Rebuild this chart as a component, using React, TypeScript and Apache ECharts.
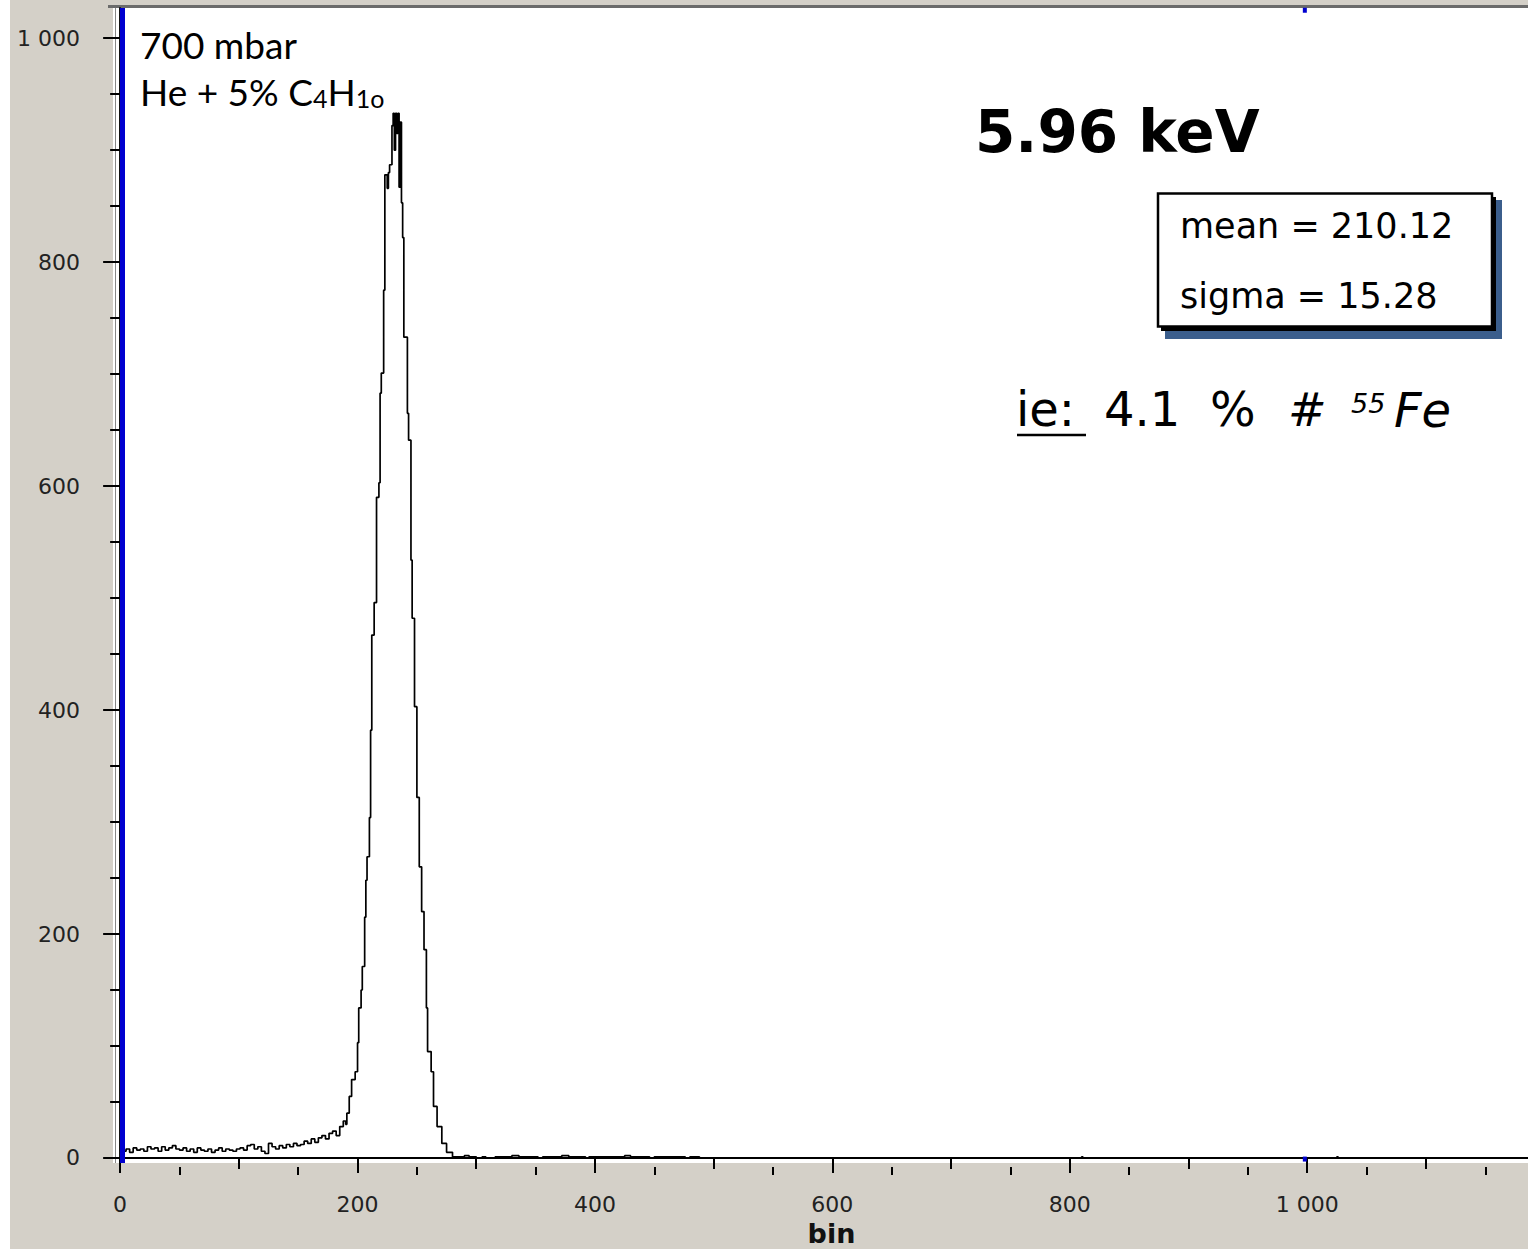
import React, { useEffect, useRef } from "react";
import * as echarts from "echarts";

// Histogram: left bin edge of each step and its count
const bins = [
  0, 3, 5, 8, 11, 14, 17, 20, 23, 26, 29, 32, 35, 38, 41, 44, 47, 50, 53, 56, 59,
  62, 65, 68, 71, 74, 77, 80, 83, 86, 89, 92, 95, 98, 101, 104, 107, 110, 113, 116,
  119, 122, 125, 128, 131, 134, 137, 140, 143, 146, 149, 152, 155, 158, 161, 164,
  167, 170, 173, 176, 179, 182, 185, 188, 190, 191, 193, 195, 198, 200, 201, 203,
  204, 206, 207, 208, 210, 211, 212, 214, 216, 218, 219, 220, 222, 223, 225, 226,
  227, 229, 230, 231, 232, 233, 234, 235, 236, 237, 238, 239, 242, 243, 245, 246,
  248, 250, 252, 254, 256, 258, 259, 262, 264, 267, 271, 275, 280, 284, 290, 294,
  300, 305, 308, 316, 330, 336, 352, 356, 372, 378, 392, 395, 410, 425, 430, 446,
  450, 470, 476, 480, 488, 810, 811, 1025, 1026, 1200,
];
const counts = [
  0, 6, 8, 5, 9, 7, 8, 6, 10, 8, 9, 6, 10, 7, 9, 11, 8, 7, 9, 6, 8,
  5, 9, 7, 6, 8, 5, 7, 9, 6, 8, 7, 6, 8, 9, 7, 11, 12, 8, 10,
  6, 4, 13, 10, 8, 11, 9, 12, 10, 13, 11, 12, 15, 13, 17, 14,
  18, 20, 17, 22, 24, 20, 28, 33, 30, 40, 55, 70, 77, 103, 134, 150,
  171, 215, 248, 269, 304, 382, 467, 496, 590, 603, 683, 701, 775, 878, 866, 880,
  887, 922, 933, 900, 933, 915, 933, 867, 925, 853, 822, 733, 665, 641, 534, 482,
  403, 322, 260, 220, 186, 134, 95, 77, 46, 28, 13, 5, 1, 1, 2, 1,
  0, 1, 0, 1, 2, 1, 0, 1, 2, 1, 0, 1, 1, 2, 1, 0,
  1, 1, 0, 1, 0, 1, 0, 1, 0, 0,
];

const xMajorTicks = [0, 200, 400, 600, 800, 1000];
const xMidTicks = [100, 300, 500, 700, 900, 1100];
const xMinorTicks = [50, 150, 250, 350, 450, 550, 650, 750, 850, 950, 1050, 1150];
const yMajorTicks = [0, 200, 400, 600, 800, 1000];
const yMinorTicks = [50, 100, 150, 250, 300, 350, 450, 500, 550, 650, 700, 750, 850, 900, 950];

const cursorBin = 2;
const endMarkerBin = 998;

const xName = "bin";
const pressureText = "700 mbar";
const energyText = "5.96 keV";
const meanText = "mean = 210.12";
const sigmaText = "sigma = 15.28";

const fmt = (v: number) => String(v).replace(/\B(?=(\d{3})+(?!\d))/g, " ");

const X_MIN = -6;
const X_MAX = 1186;
const Y_MIN = -4.5;
const Y_MAX = 1027;

export default function App() {
  const ref = useRef<HTMLDivElement>(null);

  useEffect(() => {
    if (!ref.current) return;
    const chart = echarts.init(ref.current, undefined, { renderer: "svg" });
    const font = "DejaVu Sans";
    const baseX = {
      type: "value" as const,
      min: X_MIN,
      max: X_MAX,
      position: "bottom" as const,
      offset: 4,
      splitLine: { show: false },
    };
    const baseY = {
      type: "value" as const,
      min: Y_MIN,
      max: Y_MAX,
      position: "left" as const,
      offset: 3,
      splitLine: { show: false },
    };
    const txt = (x: number, y: number, text: string, f: string) => ({
      type: "text",
      x,
      y,
      silent: true,
      style: { text, font: f, fill: "#000" },
    });
    const option: any = {
      animation: false,
      backgroundColor: "#d4d0c8",
      grid: {
        left: 113,
        top: 8,
        width: 1415,
        height: 1155,
        show: true,
        backgroundColor: "#ffffff",
        borderWidth: 0,
        containLabel: false,
        outerBoundsMode: "none",
      },
      xAxis: [
        {
          ...baseX,
          axisLine: { show: true, lineStyle: { color: "#000", width: 2 } },
          axisTick: {
            show: true,
            customValues: xMajorTicks,
            length: 15,
            lineStyle: { color: "#000", width: 2 },
          },
          axisLabel: {
            show: true,
            customValues: xMajorTicks,
            formatter: fmt,
            margin: 26,
            fontSize: 22,
            fontFamily: font,
            color: "#222",
          },
          name: xName,
          nameLocation: "middle",
          nameGap: 49,
          nameTextStyle: {
            fontSize: 27,
            fontWeight: "bold",
            fontFamily: font,
            color: "#111",
            padding: [0, 0, 0, 22],
          },
        },
        {
          ...baseX,
          axisLine: { show: false },
          axisTick: {
            show: true,
            customValues: xMidTicks,
            length: 11,
            lineStyle: { color: "#000", width: 2 },
          },
          axisLabel: { show: false },
        },
        {
          ...baseX,
          axisLine: { show: false },
          axisTick: {
            show: true,
            customValues: xMinorTicks,
            length: 8,
            lineStyle: { color: "#000", width: 2 },
          },
          axisLabel: { show: false },
        },
      ],
      yAxis: [
        {
          ...baseY,
          axisLine: { show: true, lineStyle: { color: "#111", width: 2 } },
          axisTick: {
            show: true,
            customValues: yMajorTicks,
            length: 17,
            lineStyle: { color: "#000", width: 2 },
          },
          axisLabel: {
            show: true,
            customValues: yMajorTicks,
            formatter: fmt,
            margin: 30,
            fontSize: 22,
            fontFamily: font,
            color: "#222",
          },
        },
        {
          ...baseY,
          axisLine: { show: false },
          axisTick: {
            show: true,
            customValues: yMinorTicks,
            length: 10,
            lineStyle: { color: "#000", width: 2 },
          },
          axisLabel: { show: false },
        },
      ],
      series: [
        {
          type: "line",
          step: "end",
          xAxisIndex: 0,
          yAxisIndex: 0,
          data: bins.map((b, i) => [b, counts[i]]),
          showSymbol: false,
          symbol: "none",
          clip: true,
          lineStyle: { color: "#000", width: 1.7 },
          silent: true,
          markLine: {
            silent: true,
            symbol: "none",
            label: { show: false },
            lineStyle: { color: "#0000d0", width: 5, type: "solid" },
            data: [{ xAxis: cursorBin }],
          },
          markPoint: {
            silent: true,
            symbol: "rect",
            symbolSize: [4, 5],
            itemStyle: { color: "#0000d0" },
            label: { show: false },
            data: [{ coord: [endMarkerBin, Y_MAX - 2] }, { coord: [endMarkerBin, -1] }],
          },
        },
      ],
      graphic: [
        { type: "rect", shape: { x: 0, y: 0, width: 10, height: 1249 }, style: { fill: "#ffffff" }, silent: true },
        { type: "rect", shape: { x: 108, y: 5, width: 1420, height: 3 }, style: { fill: "#6b6b6b" }, silent: true },
        { type: "line", shape: { x1: 115.5, y1: 8, x2: 115.5, y2: 1163 }, style: { stroke: "#888", lineWidth: 1 }, silent: true },
        txt(140, 26, pressureText, "37px Lato"),
        {
          type: "text",
          x: 140,
          y: 73,
          silent: true,
          style: {
            text: "He + 5% C{s|4}H{s|1o}",
            font: "37px Lato",
            fill: "#000",
            rich: {
              s: { fontSize: 25, fontFamily: "Lato", lineHeight: 26, verticalAlign: "bottom" },
            },
          },
        },
        txt(975, 103, energyText, "bold 58px 'DejaVu Sans'"),
        { type: "rect", shape: { x: 1165, y: 200, width: 337, height: 139 }, style: { fill: "#3b5e8c" }, silent: true },
        { type: "rect", shape: { x: 1161, y: 197, width: 335, height: 134 }, style: { fill: "#000" }, silent: true },
        { type: "rect", shape: { x: 1158, y: 193.5, width: 334, height: 133 }, style: { fill: "#fff", stroke: "#000", lineWidth: 2.5 }, silent: true },
        txt(1180, 208, meanText, "35px 'DejaVu Sans'"),
        txt(1180, 278, sigmaText, "35px 'DejaVu Sans'"),
        txt(1016, 385, "ie:", "48px 'DejaVu Sans'"),
        { type: "line", shape: { x1: 1017, y1: 435, x2: 1086, y2: 435 }, style: { stroke: "#000", lineWidth: 2.5 }, silent: true },
        txt(1104, 385, "4.1", "48px 'DejaVu Sans'"),
        txt(1210, 385, "%", "48px 'DejaVu Sans'"),
        txt(1288, 387, "#", "italic 46px 'DejaVu Sans'"),
        txt(1351, 390, "55", "italic 27px 'DejaVu Sans'"),
        txt(1394, 386, "Fe", "italic 48px 'DejaVu Sans'"),
      ],
    };
    chart.setOption(option);
    return () => chart.dispose();
  }, []);

  return (
    <div
      ref={ref}
      style={{ position: "absolute", left: 0, top: 0, width: 1528, height: 1249 }}
    />
  );
}
